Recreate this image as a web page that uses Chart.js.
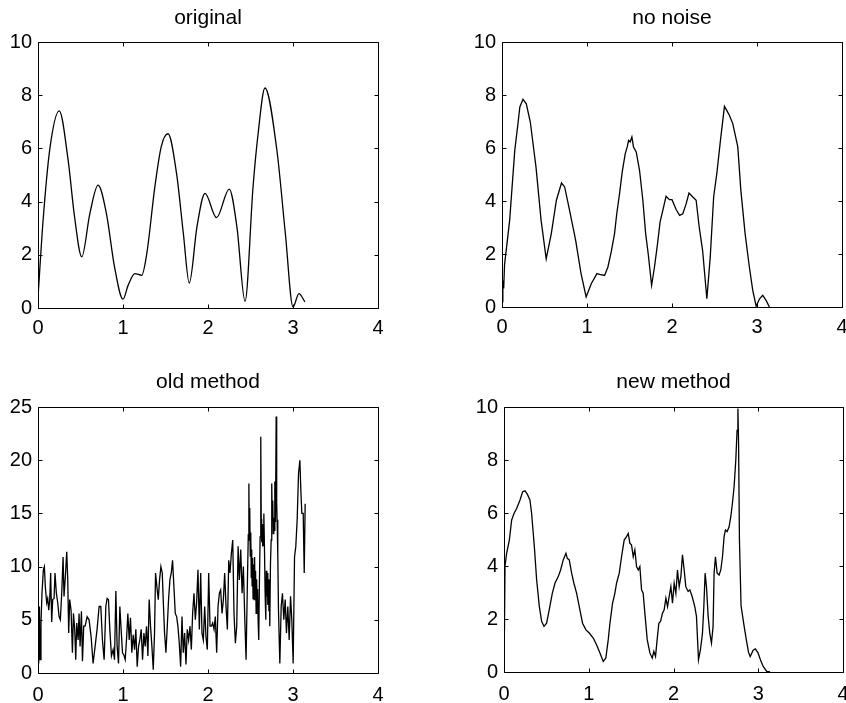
<!DOCTYPE html>
<html>
<head>
<meta charset="utf-8">
<title>Signal reconstruction comparison</title>
<script src="https://cdn.jsdelivr.net/npm/chart.js@4.4.1/dist/chart.umd.min.js"></script>
<style>
  html, body { margin: 0; padding: 0; background: #fff; overflow: hidden; }
  #wrap { position: relative; width: 846px; height: 703px; background: #fff; }
  canvas { position: absolute; }
</style>
</head>
<body>
<div id="wrap">
  <canvas id="pOriginal" width="423" height="340" style="left:0px;top:0px"></canvas>
  <canvas id="pClean" width="423" height="340" style="left:423px;top:0px"></canvas>
  <canvas id="pOld" width="423" height="363" style="left:0px;top:340px"></canvas>
  <canvas id="pNew" width="423" height="363" style="left:423px;top:340px"></canvas>
</div>
<script>
// ---- panel titles and axis ticks ----
const panelTitles = ['original', 'no noise', 'old method', 'new method'];
const xTickValues = [0, 1, 2, 3, 4];
const yTicksTen = [0, 2, 4, 6, 8, 10];
const yTicksOld = [0, 5, 10, 15, 20, 25];

// ---- original signal ----
const origX = [0, 0.06, 0.14, 0.25, 0.354, 0.43, 0.515, 0.61, 0.707, 0.805, 0.9, 1.0, 1.06, 1.14, 1.22, 1.28, 1.375, 1.45, 1.53, 1.63, 1.71, 1.78, 1.87, 1.965, 2.1, 2.25, 2.34, 2.436, 2.53, 2.59, 2.67, 2.81, 2.91, 3.0, 3.07, 3.14];
const origY = [0.4, 3.3, 6.0, 7.41, 5.57, 3.43, 1.92, 3.55, 4.62, 3.55, 1.55, 0.33, 0.85, 1.29, 1.23, 2.05, 4.56, 6.07, 6.55, 5.06, 2.8, 0.94, 3.05, 4.31, 3.4, 4.47, 3.05, 0.25, 4.56, 6.57, 8.27, 5.94, 2.8, 0.04, 0.54, 0.23];

// ---- reconstruction without noise ----
const cleanX = [0, 0.01, 0.02, 0.03, 0.09, 0.15, 0.19, 0.21, 0.247, 0.286,
  0.333, 0.40, 0.46, 0.52, 0.58, 0.64, 0.70, 0.737, 0.795, 0.866,
  0.93, 0.99, 1.05, 1.117, 1.148, 1.207, 1.246, 1.285, 1.324, 1.35,
  1.383, 1.414, 1.45, 1.473, 1.49, 1.508, 1.528, 1.547, 1.579, 1.618,
  1.657, 1.69, 1.72, 1.76, 1.794, 1.83, 1.86, 1.892, 1.93, 1.97,
  2.0, 2.05, 2.09, 2.127, 2.167, 2.2, 2.245, 2.284, 2.32, 2.36,
  2.41, 2.45, 2.49, 2.527, 2.57, 2.617, 2.644, 2.676, 2.715, 2.774,
  2.81, 2.86, 2.91, 2.95, 2.99, 3.03, 3.067, 3.107, 3.146];
const cleanY = [0.2, 1.0, 0.7, 1.6, 3.27, 5.9, 6.98, 7.55, 7.84, 7.67,
  6.98, 5.28, 3.27, 1.82, 2.77, 4.03, 4.68, 4.53, 3.65, 2.52,
  1.26, 0.38, 0.88, 1.26, 1.23, 1.19, 1.51, 2.08, 2.77, 3.52,
  4.28, 5.09, 5.79, 6.04, 6.29, 6.23, 6.42, 6.04, 5.85, 5.16,
  4.03, 2.77, 2.01, 0.82, 1.51, 2.39, 3.21, 3.65, 4.18, 4.05,
  4.05, 3.67, 3.46, 3.52, 3.9, 4.3, 4.15, 4.03, 3.02, 2.14,
  0.31, 1.89, 4.15, 5.03, 6.29, 7.57, 7.42, 7.23, 6.92, 6.04,
  4.4, 2.77, 1.51, 0.63, 0.03, 0.31, 0.44, 0.25, 0];

// ---- old method reconstruction (noisy) ----
const oldX = [0.000, 0.008, 0.016, 0.024, 0.035, 0.047, 0.063, 0.075, 0.086, 0.102,
  0.114, 0.126, 0.138, 0.149, 0.161, 0.173, 0.189, 0.200, 0.216, 0.232,
  0.248, 0.263, 0.279, 0.295, 0.306, 0.322, 0.338, 0.350, 0.361, 0.373,
  0.389, 0.405, 0.417, 0.432, 0.444, 0.456, 0.472, 0.483, 0.495, 0.511,
  0.523, 0.538, 0.554, 0.578, 0.601, 0.625, 0.648, 0.672, 0.695, 0.719,
  0.739, 0.758, 0.778, 0.798, 0.813, 0.829, 0.845, 0.864, 0.884, 0.900,
  0.916, 0.931, 0.947, 0.963, 0.978, 0.994, 1.010, 1.026, 1.041, 1.057,
  1.073, 1.088, 1.104, 1.120, 1.136, 1.151, 1.167, 1.183, 1.198, 1.214,
  1.230, 1.246, 1.261, 1.277, 1.293, 1.308, 1.324, 1.340, 1.356, 1.371,
  1.383, 1.399, 1.415, 1.430, 1.446, 1.462, 1.473, 1.489, 1.505, 1.521,
  1.536, 1.552, 1.568, 1.583, 1.599, 1.615, 1.631, 1.646, 1.662, 1.678,
  1.694, 1.709, 1.725, 1.741, 1.756, 1.772, 1.788, 1.804, 1.819, 1.835,
  1.851, 1.866, 1.882, 1.898, 1.914, 1.929, 1.945, 1.961, 1.976, 1.992,
  2.008, 2.024, 2.039, 2.055, 2.071, 2.086, 2.102, 2.118, 2.134, 2.149,
  2.165, 2.181, 2.196, 2.212, 2.228, 2.244, 2.259, 2.275, 2.291, 2.306,
  2.322, 2.338, 2.354, 2.369, 2.385, 2.401, 2.416, 2.432, 2.448, 2.464,
  2.474, 2.481, 2.486, 2.491, 2.497, 2.503, 2.509, 2.514, 2.519, 2.525,
  2.530, 2.536, 2.542, 2.548, 2.554, 2.560, 2.566, 2.572, 2.578, 2.584,
  2.590, 2.597, 2.604, 2.613, 2.621, 2.626, 2.631, 2.636, 2.641, 2.646,
  2.651, 2.657, 2.664, 2.672, 2.680, 2.686, 2.692, 2.698, 2.704, 2.711,
  2.717, 2.722, 2.727, 2.735, 2.743, 2.750, 2.756, 2.762, 2.768, 2.774,
  2.780, 2.786, 2.794, 2.802, 2.808, 2.813, 2.821, 2.829, 2.845, 2.861,
  2.876, 2.892, 2.908, 2.923, 2.939, 2.955, 2.971, 2.986, 3.002, 3.018,
  3.033, 3.049, 3.065, 3.081, 3.092, 3.104, 3.120, 3.132, 3.143];
const oldY = [5.6, 0.9, 6.25, 1.25, 4.7, 7.5, 9.7, 10.0, 8.1, 6.6,
  7.0, 5.9, 6.9, 9.4, 4.8, 6.9, 7.0, 9.4, 7.5, 6.6,
  5.3, 5.0, 7.5, 10.9, 7.2, 9.1, 11.4, 8.75, 3.75, 6.9,
  5.9, 1.9, 5.6, 4.1, 1.25, 4.7, 3.1, 5.6, 2.5, 5.8,
  1.1, 4.4, 4.4, 5.3, 5.0, 3.4, 0.9, 2.5, 4.1, 6.25,
  6.25, 3.1, 1.25, 6.25, 7.0, 6.9, 4.1, 1.6, 2.2, 1.25,
  7.7, 2.5, 0.9, 6.25, 4.1, 1.9, 1.7, 1.25, 3.1, 5.6,
  3.1, 5.2, 1.9, 3.6, 2.2, 4.1, 0.6, 2.5, 3.1, 4.1,
  1.25, 3.75, 2.5, 4.4, 1.6, 6.9, 4.4, 2.5, 0.3, 3.75,
  9.4, 8.1, 6.9, 8.75, 10.0, 9.4, 6.9, 3.75, 1.9, 4.4,
  6.9, 8.75, 9.4, 10.6, 8.1, 5.6, 5.3, 4.4, 2.8, 0.6,
  5.3, 1.9, 3.75, 0.8, 4.1, 3.1, 4.4, 2.2, 5.6, 7.5,
  5.0, 6.6, 9.7, 4.1, 9.4, 3.75, 3.1, 6.25, 3.4, 2.2,
  9.4, 4.4, 4.4, 4.7, 4.1, 5.3, 1.9, 6.25, 7.5, 7.8,
  5.6, 6.9, 9.4, 6.25, 4.1, 10.6, 9.4, 11.25, 12.5, 5.6,
  2.8, 4.4, 11.9, 8.75, 11.6, 7.5, 10.0, 5.3, 1.25, 8.75,
  13.0, 17.8, 12.5, 15.5, 11.0, 13.2, 9.0, 11.6, 8.2, 10.8,
  7.0, 10.2, 6.9, 10.9, 7.4, 9.6, 5.6, 8.8, 6.5, 7.9,
  4.8, 3.1, 8.0, 12.8, 22.2, 14.5, 12.3, 14.0, 11.9, 13.6,
  12.0, 15.0, 11.9, 7.5, 5.0, 9.6, 7.2, 9.4, 6.4, 8.8,
  5.8, 8.0, 4.4, 10.3, 12.5, 17.8, 14.4, 16.2, 13.1, 14.6,
  13.4, 18.0, 14.2, 24.1, 16.0, 14.4, 11.25, 6.0, 0.9, 6.25,
  7.5, 5.0, 6.9, 3.75, 6.25, 3.1, 7.2, 5.0, 0.9, 10.9,
  11.9, 14.4, 18.75, 20.0, 17.2, 15.0, 15.0, 9.4, 15.9];

// ---- new method reconstruction ----
const newX = [0, 0.004, 0.008, 0.012, 0.031, 0.063, 0.09, 0.118, 0.149, 0.189,
  0.22, 0.248, 0.275, 0.306, 0.326, 0.358, 0.385, 0.417, 0.444, 0.472,
  0.503, 0.534, 0.57, 0.601, 0.64, 0.668, 0.699, 0.731, 0.747, 0.77,
  0.798, 0.825, 0.857, 0.888, 0.927, 0.967, 1.006, 1.053, 1.092, 1.132,
  1.171, 1.202, 1.23, 1.25, 1.281, 1.308, 1.328, 1.36, 1.387, 1.418,
  1.446, 1.466, 1.485, 1.505, 1.525, 1.544, 1.564, 1.584, 1.603, 1.623,
  1.642, 1.662, 1.69, 1.721, 1.749, 1.768, 1.788, 1.807, 1.827, 1.847,
  1.87, 1.89, 1.91, 1.93, 1.949, 1.969, 1.988, 2.008, 2.028, 2.047,
  2.067, 2.087, 2.106, 2.126, 2.145, 2.173, 2.193, 2.22, 2.251, 2.271,
  2.295, 2.318, 2.342, 2.358, 2.373, 2.389, 2.409, 2.428, 2.448, 2.467,
  2.479, 2.495, 2.515, 2.538, 2.558, 2.578, 2.597, 2.613, 2.633, 2.656,
  2.676, 2.695, 2.715, 2.735, 2.75, 2.76, 2.768, 2.778, 2.797, 2.83,
  2.86, 2.885, 2.905, 2.94, 2.965, 2.998, 3.03, 3.06, 3.1, 3.14];
const newY = [1.6, 2.8, 1.9, 4.0, 4.48, 4.98, 5.73, 5.98, 6.17, 6.49,
  6.8, 6.84, 6.71, 6.49, 5.98, 4.73, 3.48, 2.47, 1.91, 1.72,
  1.84, 2.35, 2.97, 3.35, 3.6, 3.85, 4.23, 4.48, 4.29, 4.23,
  3.73, 3.35, 2.97, 2.47, 1.84, 1.59, 1.47, 1.28, 1.03, 0.72,
  0.4, 0.53, 1.22, 1.84, 2.6, 2.97, 3.35, 3.73, 4.35, 4.98,
  5.11, 5.23, 4.86, 4.79, 4.35, 4.61, 3.98, 3.85, 3.98, 3.1,
  2.97, 2.22, 1.22, 0.72, 0.53, 0.78, 0.59, 1.22, 1.84, 1.91,
  2.22, 2.35, 2.79, 2.47, 2.85, 3.22, 2.6, 3.35, 2.97, 3.85,
  3.22, 3.6, 4.42, 3.85, 3.22, 3.04, 3.1, 2.85, 2.47, 2.1,
  0.46, 0.84, 1.47, 2.47, 3.73, 3.22, 2.1, 1.47, 1.09, 1.72,
  3.73, 4.35, 3.73, 3.66, 3.85, 4.35, 5.11, 5.36, 5.3, 5.48,
  5.86, 6.36, 6.99, 7.99, 9.12, 9.94, 8.6, 5.0, 2.5, 1.8,
  1.2, 0.75, 0.58, 0.82, 0.87, 0.72, 0.42, 0.2, 0.02, 0];

// ---- drawing ----
const FONT = '"Liberation Sans", Arial, Helvetica, sans-serif';

// Closed box around the plot area with short inward tick marks on all four sides.
const boxFrame = {
  id: 'boxFrame',
  afterDraw(chart) {
    const { ctx, chartArea: a, scales: { x, y } } = chart;
    const L = Math.round(a.left) + 0.5, R = Math.round(a.right) + 0.5;
    const T = Math.round(a.top) + 0.5, B = Math.round(a.bottom) + 0.5;
    const len = 4;
    ctx.save();
    ctx.strokeStyle = '#000';
    ctx.lineWidth = 1;
    ctx.beginPath();
    ctx.rect(L, T, R - L, B - T);
    x.ticks.forEach(t => {
      const px = Math.round(x.getPixelForValue(t.value)) + 0.5;
      ctx.moveTo(px, B); ctx.lineTo(px, B - len);
      ctx.moveTo(px, T); ctx.lineTo(px, T + len);
    });
    y.ticks.forEach(t => {
      const py = Math.round(y.getPixelForValue(t.value)) + 0.5;
      ctx.moveTo(L, py); ctx.lineTo(L + len, py);
      ctx.moveTo(R, py); ctx.lineTo(R - len, py);
    });
    ctx.stroke();
    ctx.restore();
  }
};

function makePanel(canvasId, title, xs, ys, yTicks, g, smooth, lineW) {
  const points = xs.map((x, i) => ({ x: x, y: ys[i] }));
  new Chart(document.getElementById(canvasId), {
    type: 'line',
    data: {
      datasets: [{
        data: points,
        borderColor: '#000',
        borderWidth: lineW,
        pointRadius: 0,
        fill: false,
        tension: 0,
        cubicInterpolationMode: smooth ? 'monotone' : 'default'
      }]
    },
    options: {
      responsive: false,
      animation: false,
      events: [],
      layout: { padding: { left: g.padLeft, right: g.padRight, top: 0, bottom: 0 } },
      plugins: {
        legend: { display: false },
        tooltip: { enabled: false },
        title: {
          display: true,
          text: title,
          fullSize: false,
          color: '#000',
          font: { family: FONT, size: 21, weight: 'normal', lineHeight: 1.2 },
          padding: { top: g.titleTop, bottom: g.titleBottom }
        }
      },
      scales: {
        x: {
          type: 'linear',
          min: xTickValues[0],
          max: xTickValues[xTickValues.length - 1],
          afterBuildTicks: s => { s.ticks = xTickValues.map(v => ({ value: v })); },
          afterFit: s => { s.height = g.xAxisHeight; s.paddingLeft = 0; s.paddingRight = 0; },
          grid: { display: false, drawTicks: false },
          border: { display: false },
          ticks: { color: '#000', font: { family: FONT, size: 20 }, padding: g.xLabelPad, maxRotation: 0, autoSkip: false }
        },
        y: {
          type: 'linear',
          min: yTicks[0],
          max: yTicks[yTicks.length - 1],
          afterBuildTicks: s => { s.ticks = yTicks.map(v => ({ value: v })); },
          afterFit: s => { s.width = 38; },
          grid: { display: false, drawTicks: false },
          border: { display: false },
          ticks: { color: '#000', font: { family: FONT, size: 20 }, padding: 6, autoSkip: false }
        }
      }
    },
    plugins: [boxFrame]
  });
}

// panel layout: plot boxes at x 38–378 / 502–842, y 42–308 / 407–673
makePanel('pOriginal', panelTitles[0], origX, origY, yTicksTen,
  { padLeft: 0, padRight: 45, titleTop: 6, titleBottom: 10.8, xAxisHeight: 32, xLabelPad: 8 }, true, 1.3);
makePanel('pClean', panelTitles[1], cleanX, cleanY, yTicksTen,
  { padLeft: 41, padRight: 4, titleTop: 6, titleBottom: 10.8, xAxisHeight: 33, xLabelPad: 8 }, false, 1.3);
makePanel('pOld', panelTitles[2], oldX, oldY, yTicksOld,
  { padLeft: 0, padRight: 45, titleTop: 30, titleBottom: 11.8, xAxisHeight: 30, xLabelPad: 10 }, false, 1.3);
makePanel('pNew', panelTitles[3], newX, newY, yTicksTen,
  { padLeft: 43, padRight: 3, titleTop: 30, titleBottom: 11.8, xAxisHeight: 31, xLabelPad: 10 }, false, 1.3);
</script>
</body>
</html>
